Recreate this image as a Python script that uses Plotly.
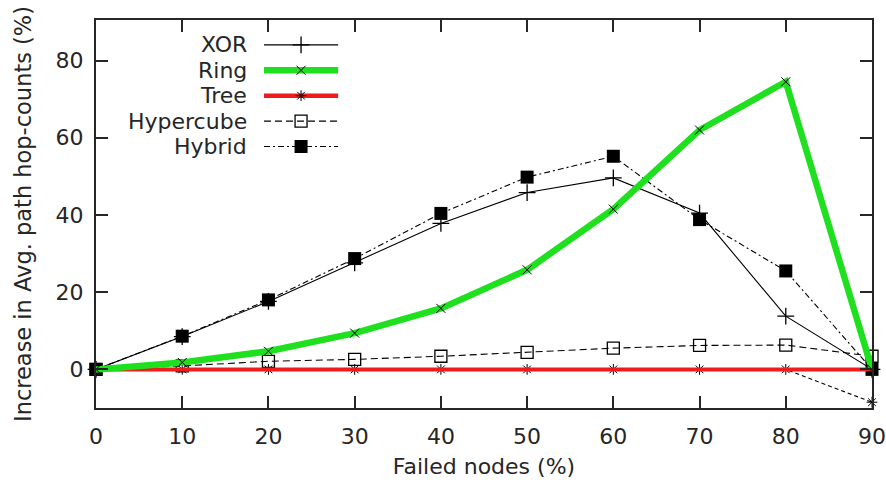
import plotly.graph_objects as go

# Percentage of failed nodes
failed = [0, 10, 20, 30, 40, 50, 60, 70, 80, 90]

# Increase in average path hop-count (%) per overlay topology
xor_vals = [0, 8.5, 17.6, 27.6, 37.8, 45.8, 49.6, 40.5, 13.8, 0]
ring_vals = [0, 1.8, 4.7, 9.4, 15.8, 25.8, 41.5, 62.0, 74.5, 0]
tree_vals = [0, 0, 0, 0, 0, 0, 0, 0, 0, -8.5]
tree_trend = [0, 0, 0, 0, 0, 0, 0, 0, 0, 0]
hypercube_vals = [0, 0.9, 2.1, 2.6, 3.4, 4.4, 5.5, 6.2, 6.3, 3.4]
hybrid_vals = [0, 8.6, 18.0, 28.7, 40.4, 49.8, 55.2, 38.8, 25.5, 0]

x_ticks = [0, 10, 20, 30, 40, 50, 60, 70, 80, 90]
y_ticks = [0, 20, 40, 60, 80]

GREEN = "#1fe01f"
RED = "#ee1c1c"
INK = "#262626"
FONT = "DejaVu Sans"
FS = 22


def sym(symbol, size, width=1.2):
    return dict(symbol=symbol, size=size, color="black",
                line=dict(color="black", width=width))


fig = go.Figure()

# Raw series drawn as thin black lines with point symbols
fig.add_trace(go.Scatter(x=failed, y=ring_vals, mode="lines",
                         line=dict(color="black", width=1.1, dash="2px,3px"),
                         showlegend=False, cliponaxis=False))
fig.add_trace(go.Scatter(x=failed, y=tree_vals, mode="lines+markers",
                         line=dict(color="black", width=1.1, dash="4px,3px"),
                         marker=sym("asterisk-open", 9, 1),
                         showlegend=False, cliponaxis=False))
fig.add_trace(go.Scatter(x=failed, y=hypercube_vals, mode="lines+markers",
                         line=dict(color="black", width=1.1, dash="7px,4px"),
                         marker=sym("square-open", 12, 1.3),
                         showlegend=False, cliponaxis=False))
fig.add_trace(go.Scatter(x=failed, y=hybrid_vals, mode="lines+markers",
                         line=dict(color="black", width=1.1,
                                   dash="6px,3px,2px,3px"),
                         marker=sym("square", 13, 0),
                         showlegend=False, cliponaxis=False))
fig.add_trace(go.Scatter(x=failed, y=xor_vals, mode="lines+markers",
                         line=dict(color="black", width=1.1),
                         marker=sym("cross-thin-open", 12, 1.3),
                         showlegend=False, cliponaxis=False))

# Thick coloured curves for Tree and Ring
fig.add_trace(go.Scatter(x=failed, y=tree_trend, mode="lines",
                         line=dict(color=RED, width=4),
                         showlegend=False, cliponaxis=False))
fig.add_trace(go.Scatter(x=failed, y=ring_vals, mode="lines+markers",
                         line=dict(color=GREEN, width=6.5),
                         marker=sym("x-thin-open", 9, 1),
                         showlegend=False, cliponaxis=False))

# Key in the upper-left corner: label right-aligned, sample to its right
key_names = ["XOR", "Ring", "Tree", "Hypercube", "Hybrid"]
key_styles = [
    dict(line=dict(color="black", width=1.3),
         marker=sym("cross-thin-open", 12, 1.3)),
    dict(line=dict(color=GREEN, width=6.5),
         marker=sym("x-thin-open", 9, 1)),
    dict(line=dict(color=RED, width=4.5),
         marker=sym("asterisk-open", 9, 1)),
    dict(line=dict(color="black", width=1.2, dash="7px,4px"),
         marker=sym("square-open", 12, 1.3)),
    dict(line=dict(color="black", width=1.2, dash="6px,3px,2px,3px"),
         marker=sym("square", 13, 0)),
]
key_top = 0.936
key_step = 0.0655
key_text_x = 0.197
key_line = (0.2165, 0.312)
for i, (name, style) in enumerate(zip(key_names, key_styles)):
    ky = key_top - i * key_step
    fig.add_trace(go.Scatter(x=[key_line[0], key_line[1]], y=[ky, ky],
                             mode="lines", line=style["line"],
                             xaxis="x2", yaxis="y2", showlegend=False,
                             hoverinfo="skip"))
    fig.add_trace(go.Scatter(x=[(key_line[0] + key_line[1]) / 2], y=[ky],
                             mode="markers", marker=style["marker"],
                             xaxis="x2", yaxis="y2", showlegend=False,
                             hoverinfo="skip"))
    fig.add_annotation(x=key_text_x, y=ky, xref="paper", yref="paper",
                       text=name, showarrow=False, xanchor="right",
                       yanchor="middle",
                       font=dict(family=FONT, size=FS, color=INK))

axis_common = dict(
    showline=True, linecolor=INK, linewidth=2, mirror="allticks",
    ticks="inside", ticklen=12, tickwidth=1.5, tickcolor=INK,
    showgrid=False, zeroline=False, automargin=False,
    tickfont=dict(family=FONT, size=FS, color=INK),
)

fig.update_layout(
    width=886, height=486,
    margin=dict(l=96, r=14, t=20, b=78),
    paper_bgcolor="white", plot_bgcolor="white",
    showlegend=False,
    xaxis=dict(range=[0, 90], tickvals=x_ticks,
               title=dict(text="Failed nodes (%)", standoff=10,
                          font=dict(family=FONT, size=FS, color=INK)),
               ticklabelstandoff=8, **axis_common),
    yaxis=dict(range=[-10, 90.5], tickvals=y_ticks,
               title=dict(text="Increase in Avg. path hop-counts (%)",
                          standoff=18,
                          font=dict(family=FONT, size=FS + 0.5, color=INK)),
               ticklabelstandoff=6, **axis_common),
    xaxis2=dict(overlaying="x", range=[0, 1], visible=False, fixedrange=True),
    yaxis2=dict(overlaying="y", range=[0, 1], visible=False, fixedrange=True),
)

fig.write_html("out.html")
